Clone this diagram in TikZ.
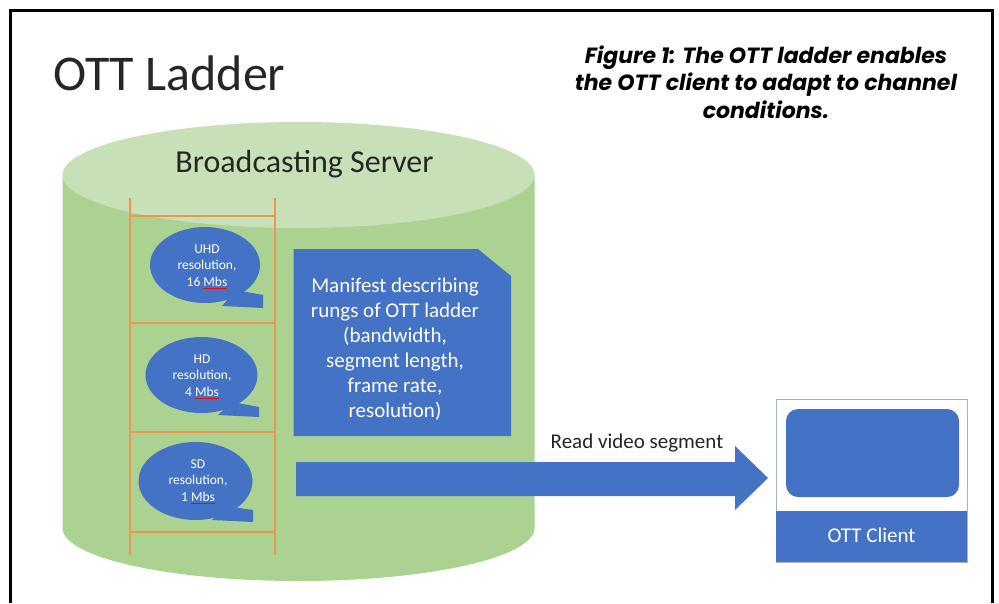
\documentclass[tikz,border=0pt]{standalone}
\usepackage{fontspec}
\setmainfont{Carlito}
\newfontfamily\capfont{Poppins}
\usetikzlibrary{calc}

\definecolor{bodygreen}{RGB}{172,210,146}
\definecolor{topgreen}{RGB}{200,224,183}
\definecolor{msblue}{RGB}{68,114,196}
\definecolor{rungorange}{RGB}{237,150,80}
\definecolor{framegray}{RGB}{170,178,190}

\newcommand{\fsz}[2]{\fontsize{#1}{#2}\selectfont}
\newlength{\markwd}
\newcommand{\spellmark}[1]{\settowidth{\markwd}{#1}\rlap{\raisebox{-2.8pt}{\color{red}\rule{\markwd}{1.3pt}}}#1}

\tikzset{
  bubble/.style={fill=msblue, draw=none},
  bubbletext/.style={text=white, align=center, font=\fsz{13.5}{16.5}},
  rail/.style={draw=rungorange, line width=1.6pt},
  bluefill/.style={fill=msblue, draw=none},
  whitelabel/.style={text=white, font=\fsz{21}{25}},
}

\begin{document}
\begin{tikzpicture}[x=1pt,y=-1pt]
  \useasboundingbox (0,0) rectangle (999,603);
  \fill[white] (0,0) rectangle (999,603);

  % page frame, open at the bottom
  \draw[line width=2.5pt] (10.5,603) -- (10.5,10.5) -- (992.5,10.5) -- (992.5,603);

  % headings
  \node[anchor=base west, inner sep=0, font=\fsz{50}{60}, text=black!85] (title) at (53,90) {OTT Ladder};
  \node[align=center, inner sep=0, font=\capfont\bfseries\itshape\fsz{22}{27.5}] (caption) at (766,82)
    {Figure 1: The OTT ladder enables\\the OTT client to adapt to channel\\conditions.};

  % broadcasting server cylinder
  \fill[bodygreen] (62.5,175) -- (62.5,528) arc[start angle=180, end angle=0, x radius=236, y radius=53]
    -- (534.5,175) -- cycle;
  \fill[topgreen] (298.5,175) ellipse[x radius=236, y radius=53];
  \node[anchor=base, inner sep=0, font=\fsz{32}{38}, text=black!85] (server) at (304.5,172) {Broadcasting Server};

  % ladder rails and rungs
  \draw[rail] (130,198) -- (130,555);
  \draw[rail] (275,198) -- (275,555);
  \foreach \y in {216,323,432,532} \draw[rail] (130,\y) -- (275,\y);

  % speech bubbles for the rungs
  \fill[bubble] (205,265) ellipse[x radius=55, y radius=38];
  \fill[bubble] (236,290) -- (263,295) -- (263,308) -- (222,306) -- cycle;
  \node[bubbletext] (uhd) at (207,267) {UHD\\resolution,\\16 \spellmark{Mbs}};

  \fill[bubble] (201.5,375) ellipse[x radius=56, y radius=38];
  \fill[bubble] (232,402) -- (259,407) -- (259,417) -- (218,415) -- cycle;
  \node[bubbletext] (hd) at (202,377) {HD\\resolution,\\4 \spellmark{Mbs}};

  \fill[bubble] (195.5,481) ellipse[x radius=57, y radius=39];
  \fill[bubble] (226,506) -- (253,510) -- (253,522) -- (212,520) -- cycle;
  \node[bubbletext] (sd) at (198,482) {SD\\resolution,\\1 \spellmark{Mbs}};

  % manifest document with a clipped corner
  \fill[bluefill] (293.5,249) -- (478,249) -- (511,276) -- (511,436) -- (293.5,436) -- cycle;
  \node[whitelabel, align=center, inner sep=0] (manifest) at (395,349)
    {Manifest describing\\rungs of OTT ladder\\(bandwidth,\\segment length,\\frame rate,\\resolution)};

  % block arrow towards the client
  \fill[bluefill] (296,462) -- (735,462) -- (735,446) -- (768,478) -- (735,510) -- (735,496) -- (296,496) -- cycle;
  \node[anchor=base, inner sep=0, font=\fsz{21}{25}, text=black!85] (read) at (637,448) {Read video segment};

  % OTT client
  \draw[framegray, line width=1pt] (776,399) rectangle (967,562);
  \fill[bluefill, rounded corners=12pt] (786,409) rectangle (959,497);
  \fill[bluefill] (776,511) rectangle (967,562);
  \node[whitelabel, anchor=base, inner sep=0] (client) at (871.5,542) {OTT Client};
\end{tikzpicture}
\end{document}
